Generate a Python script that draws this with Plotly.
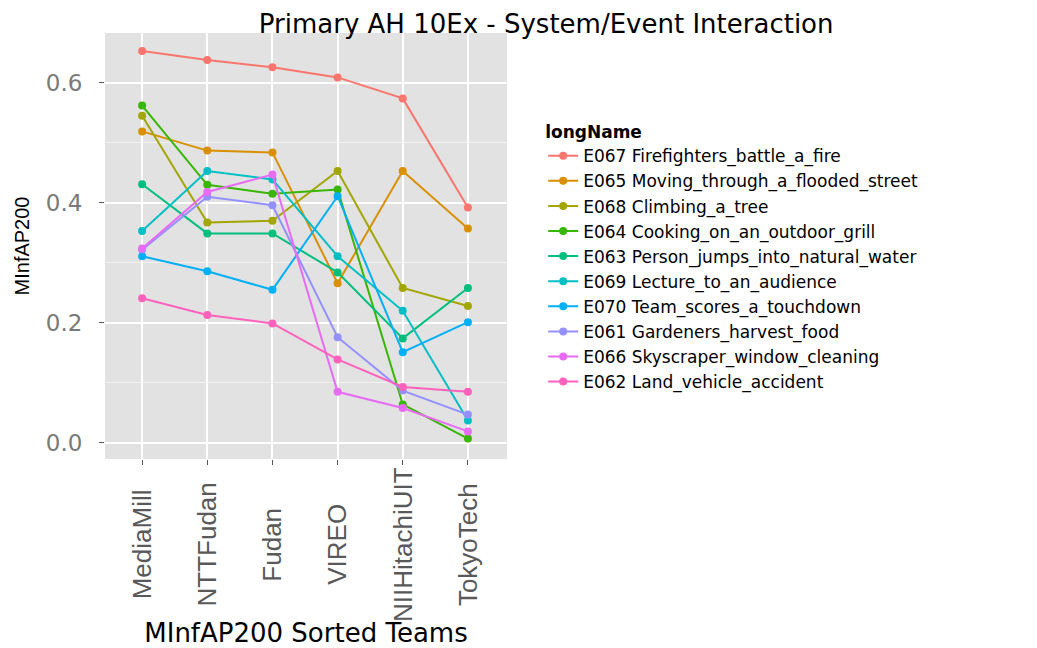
import plotly.graph_objects as go

teams = ["MediaMill", "NTTFudan", "Fudan", "VIREO", "NIIHitachiUIT", "TokyoTech"]

e067 = [0.653, 0.638, 0.626, 0.609, 0.574, 0.392]
e065 = [0.519, 0.487, 0.484, 0.266, 0.453, 0.357]
e068 = [0.545, 0.367, 0.370, 0.453, 0.258, 0.228]
e064 = [0.562, 0.430, 0.415, 0.422, 0.064, 0.007]
e063 = [0.431, 0.349, 0.349, 0.284, 0.174, 0.258]
e069 = [0.353, 0.453, 0.439, 0.311, 0.220, 0.037]
e070 = [0.311, 0.286, 0.255, 0.411, 0.151, 0.201]
e061 = [0.322, 0.410, 0.396, 0.176, 0.087, 0.047]
e066 = [0.324, 0.418, 0.447, 0.085, 0.058, 0.019]
e062 = [0.241, 0.213, 0.199, 0.139, 0.093, 0.085]

names = [
    "E067 Firefighters_battle_a_fire",
    "E065 Moving_through_a_flooded_street",
    "E068 Climbing_a_tree",
    "E064 Cooking_on_an_outdoor_grill",
    "E063 Person_jumps_into_natural_water",
    "E069 Lecture_to_an_audience",
    "E070 Team_scores_a_touchdown",
    "E061 Gardeners_harvest_food",
    "E066 Skyscraper_window_cleaning",
    "E062 Land_vehicle_accident",
]
series = [e067, e065, e068, e064, e063, e069, e070, e061, e066, e062]
colors = ["#F8766D", "#D89000", "#A3A500", "#39B600", "#00BF7D",
          "#00BFC4", "#00B0F6", "#9590FF", "#E76BF3", "#FF62BC"]

fig = go.Figure()
for name, vals, col in zip(names, series, colors):
    fig.add_trace(go.Scatter(
        x=teams, y=vals, mode="lines+markers", name=name,
        line={"color": col, "width": 2},
        marker={"color": col, "size": 8},
    ))

wide = "DejaVu Sans"
narrow = "Liberation Sans, Arial, sans-serif"

# rotated team labels, centred on their tick like ggplot's hjust=0.5
for t in teams:
    fig.add_annotation(x=t, y=-0.2, xref="x", yref="paper", text=t,
                       textangle=-90, showarrow=False,
                       xanchor="center", yanchor="middle",
                       font={"family": narrow, "size": 26, "color": "#595959"})

# page body has an 8px margin, so the figure is sized/offset to fit the window
fig.update_layout(
    width=1029, height=640,
    paper_bgcolor="white", plot_bgcolor="#E2E2E2",
    margin={"l": 97, "r": 530, "t": 25, "b": 189},
    title={"text": "Primary AH 10Ex - System/Event Interaction",
           "x": 0.523, "xanchor": "center", "y": 0.975, "yanchor": "middle",
           "font": {"family": wide, "size": 26, "color": "black"}},
    showlegend=True,
    legend={"title": {"text": "<b>longName</b>", "font": {"family": wide, "size": 17}},
            "x": 1.09, "xanchor": "left", "y": 0.805, "yanchor": "top",
            "font": {"family": wide, "size": 17, "color": "black"},
            "tracegroupgap": 0, "bgcolor": "rgba(0,0,0,0)"},
    xaxis={"range": [-0.57, 5.6], "showgrid": True, "gridcolor": "white", "gridwidth": 2,
           "ticks": "outside", "ticklen": 5, "tickcolor": "#555555", "tickwidth": 1,
           "showticklabels": False, "zeroline": False, "automargin": False,
           "title": {"text": "MInfAP200 Sorted Teams", "standoff": 160,
                     "font": {"family": wide, "size": 26, "color": "black"}}},
    yaxis={"range": [-0.027, 0.683], "tickvals": [0, 0.2, 0.4, 0.6],
           "ticktext": ["0.0", "0.2", "0.4", "0.6"],
           "showgrid": True, "gridcolor": "white", "gridwidth": 2,
           "minor": {"tickvals": [0.1, 0.3, 0.5], "showgrid": True,
                     "gridcolor": "#F2F2F2", "gridwidth": 1},
           "ticks": "outside", "ticklen": 5, "tickcolor": "#555555", "tickwidth": 1,
           "zeroline": False, "automargin": False, "ticklabelstandoff": 12,
           "tickfont": {"family": wide, "size": 23, "color": "#7a7a7a"},
           "title": {"text": "MInfAP200", "standoff": 10,
                     "font": {"family": narrow, "size": 20, "color": "black"}}},
)

fig.write_html("out.html")
